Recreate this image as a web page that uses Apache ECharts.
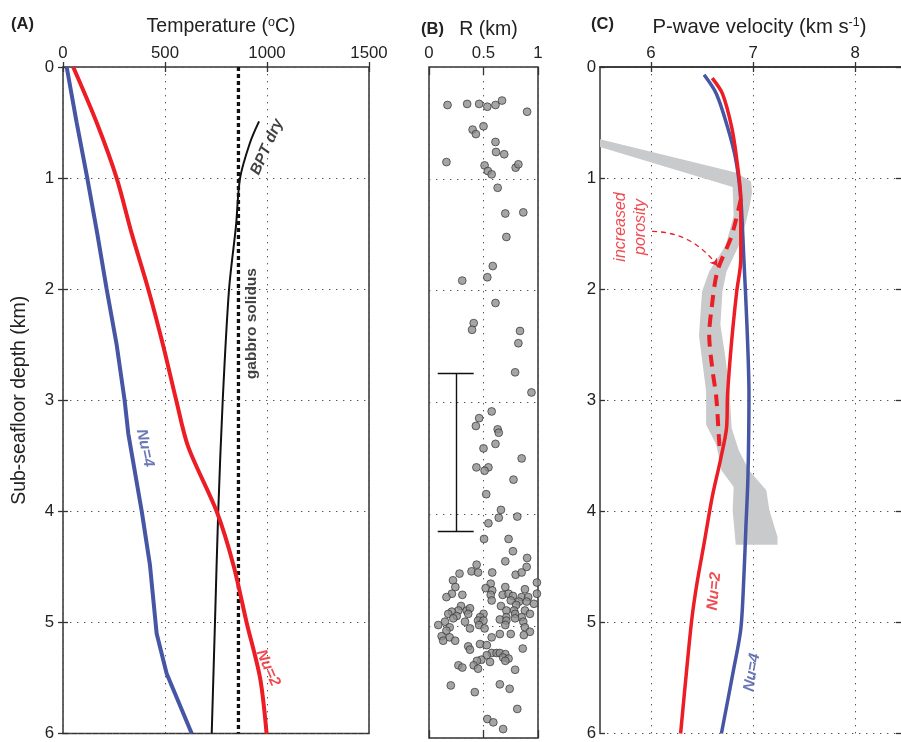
<!DOCTYPE html>
<html><head><meta charset="utf-8">
<script src="https://cdn.jsdelivr.net/npm/echarts@6/dist/echarts.min.js"></script>
<style>html,body{margin:0;padding:0;background:#fff}#c{width:901px;height:742px}</style>
</head><body><div id="c"></div>
<script>
// ---------- Panel A: temperature vs depth ----------
const tempTicks = [0, 500, 1000, 1500];
const nu4A_depth = [0, 0.5, 1, 1.5, 2, 2.5, 3, 3.3, 4, 4.48, 5.1, 5.46, 6];
const nu4A_temp  = [18, 67, 119, 168, 214, 263, 302, 320, 386, 426, 459, 508, 631];
const nu2A_depth = [0, 0.5, 1, 1.5, 2, 2.5, 3, 3.42, 4, 4.48, 5, 5.5, 6];
const nu2A_temp  = [50, 165, 263, 337, 418, 490, 555, 614, 753, 835, 900, 966, 998];
const bpt_depth  = [0.49, 0.68, 1, 1.43, 2, 3, 4, 5, 6];
const bpt_temp   = [961, 917, 868, 848, 814, 783, 761, 745, 729];
const gabbroSolidus = 860;

// ---------- Panel B: R vs depth ----------
const rTicks = [0, 0.5, 1];
const scatR = [0.17,0.35,0.46,0.535,0.61,0.67,0.90,0.40,0.43,0.50,0.61,0.615,0.69,0.16,0.51,0.54,0.575,0.795,0.82,
  0.63,0.70,0.865,0.71,0.585,0.535,0.305,0.61,0.41,0.395,0.835,0.82,0.79,0.94,
  0.575,0.46,0.43,0.63,0.64,0.61,0.50,0.85,0.435,0.545,0.51,0.775,0.525,0.66,0.64,0.81,0.545,0.505,0.73,0.77,0.70,0.90,
  0.437,0.896,0.39,0.45,0.28,0.58,0.795,0.85,0.22,0.566,0.242,0.52,0.58,0.70,0.88,0.99,0.21,0.566,0.16,0.306,0.676,0.73,0.77,0.85,0.91,0.75,0.575,0.826,0.896,0.66,0.80,0.963,0.294,0.27,0.21,0.346,0.376,0.71,0.78,0.88,0.177,0.254,0.36,0.50,0.468,0.79,0.926,0.71,0.85,0.99,
  0.147,0.223,0.33,0.45,0.50,0.65,0.71,0.79,0.865,0.085,0.19,0.16,0.376,0.46,0.51,0.70,0.88,0.926,0.116,0.13,0.19,0.24,0.575,0.65,0.75,0.87,0.36,0.376,0.468,0.53,0.86,0.575,0.62,0.53,0.65,0.70,0.48,0.68,0.73,0.44,0.56,0.70,0.27,0.306,0.41,0.45,0.79,
  0.20,0.42,0.65,0.74,0.81,0.535,0.59,0.68];
const scatD = [0.34,0.33,0.33,0.355,0.34,0.30,0.40,0.56,0.60,0.53,0.67,0.76,0.78,0.85,0.88,0.93,0.96,0.90,0.87,
  1.08,1.31,1.30,1.52,1.78,1.88,1.91,2.11,2.29,2.35,2.36,2.47,2.73,2.91,
  3.08,3.14,3.21,3.24,3.27,3.37,3.41,3.50,3.58,3.58,3.61,3.69,3.82,3.96,4.03,4.02,4.08,4.22,4.22,4.33,4.42,4.39,
  4.45,4.47,4.51,4.52,4.53,4.52,4.54,4.52,4.59,4.62,4.65,4.66,4.68,4.65,4.67,4.71,4.71,4.72,4.74,4.72,4.72,4.71,4.73,4.74,4.74,4.77,4.77,4.78,4.78,4.82,4.81,4.80,4.82,4.86,4.87,4.86,4.84,4.86,4.86,4.86,4.89,4.91,4.89,4.89,4.92,4.89,4.89,4.92,4.92,4.61,
  4.96,4.93,4.96,4.95,4.95,4.94,4.95,4.93,4.96,4.99,5.01,5.04,5.02,4.99,5.02,4.99,5.01,5.05,5.09,5.13,5.10,5.13,5.10,5.07,5.07,5.08,5.18,5.21,5.16,5.17,5.20,5.24,5.24,5.26,5.24,5.25,5.30,5.28,5.29,5.31,5.32,5.31,5.35,5.37,5.35,5.38,5.39,
  5.53,5.59,5.52,5.56,5.74,5.83,5.86,5.92];
const errBar = { r: 0.25, capLeft: 0.08, capRight: 0.41, top: 2.74, bottom: 4.15 };

// ---------- Panel C: P-wave velocity vs depth ----------
const vpTicks = [6, 7, 8];
const nu2C_depth = [0.10,0.24,0.54,0.83,1.19,1.73,2.02,2.47,2.95,3.25,3.54,3.87,4.29,4.65,4.97,5.42,6.0];
const nu2C_vp    = [6.60,6.70,6.79,6.84,6.88,6.88,6.84,6.79,6.75,6.74,6.68,6.60,6.52,6.45,6.40,6.35,6.29];
const nu4C_depth = [0.07,0.24,0.54,0.83,1.19,1.73,2.32,2.95,3.69,4.14,4.59,5.06,5.42,6.0];
const nu4C_vp    = [6.52,6.64,6.75,6.83,6.88,6.91,6.94,6.96,6.95,6.93,6.91,6.88,6.81,6.69];
const porous_depth = [1.19,1.52,1.84,2.20,2.41,2.71,2.98,3.40,3.46];
const porous_vp    = [6.88,6.79,6.65,6.59,6.57,6.60,6.64,6.67,6.68];
const band_vp    = [5.5,6.83,6.98,6.99,6.96,6.93,6.86,6.74,6.70,6.68,6.73,6.77,6.79,6.86,6.96,7.13,7.16,7.24,7.24,
                    6.83,6.80,6.81,6.69,6.64,6.54,6.54,6.47,6.50,6.57,6.73,6.81,6.80,5.5];
const band_depth = [0.65,0.95,1.03,1.13,1.28,1.40,1.61,1.84,2.02,2.32,2.62,2.92,3.25,3.45,3.63,3.81,3.99,4.23,4.30,
                    4.30,3.99,3.78,3.63,3.40,3.22,2.92,2.42,2.02,1.84,1.61,1.34,1.08,0.72];
const arrow_vp = [6.01, 6.65];
const arrow_depth = [1.48, 1.79];

const FONT = '"Liberation Sans", Arial, Helvetica, sans-serif';
const BLUE = '#4656A5', RED = '#EC1D24', GRAY = '#C9CACB', INK = '#222';
const TITLE = 19.5, TICK = 16.8;

function zip(a, b) { return a.map((v, i) => [v, b[i]]); }
const plain = (v) => String(v);

const dotted = { show: true, lineStyle: { color: '#555', width: 1, type: [1.4, 5.6] } };
const tickIn = (len) => ({ show: true, inside: true, length: len, lineStyle: { color: '#333', width: 1.3 } });
const frame = { show: true, lineStyle: { color: '#333', width: 1.5 } };
function richTitle(size) {
  return { t: { fontFamily: FONT, fontSize: size, color: INK },
           s: { fontFamily: FONT, fontSize: 12.5, color: INK, verticalAlign: 'top', padding: [0, 0, 9, 0] } };
}

function topAxis(grid, min, max, interval, name, extra) {
  return Object.assign({
    gridIndex: grid, type: 'value', position: 'top', min: min, max: max, interval: interval,
    axisLine: { show: false }, axisTick: tickIn(5),
    axisLabel: { fontFamily: FONT, fontSize: TICK, color: INK, margin: 5, formatter: plain },
    splitLine: dotted,
    name: name, nameLocation: 'middle', nameGap: 29,
    nameTextStyle: { fontFamily: FONT, fontSize: TITLE, color: INK }
  }, extra || {});
}
function bottomAxis(grid, min, max, interval, extra) {
  return Object.assign({
    gridIndex: grid, type: 'value', position: 'bottom', min: min, max: max, interval: interval,
    axisLine: { show: false }, axisTick: tickIn(5), axisLabel: { show: false }, splitLine: { show: false }
  }, extra || {});
}
function depthAxis(grid, pos, labels, margin, splitLine) {
  return {
    gridIndex: grid, type: 'value', position: pos, inverse: true, min: 0, max: 6, interval: 1,
    axisLine: { show: false }, axisTick: tickIn(5),
    axisLabel: { show: labels, fontFamily: FONT, fontSize: TICK, color: INK, margin: margin },
    splitLine: splitLine ? dotted : { show: false }
  };
}

function label(xi, yi, x, y, text, rot, color, weight, style, size) {
  return {
    type: 'scatter', xAxisIndex: xi, yAxisIndex: yi, symbolSize: 0, silent: true, z: 10,
    data: [[x, y]],
    label: { show: true, position: 'inside', formatter: text, rotate: rot, color: color,
      fontFamily: FONT, fontSize: size || 15.5, fontWeight: weight, fontStyle: style, lineHeight: 20 }
  };
}

const chart = echarts.init(document.getElementById('c'), null, { renderer: 'canvas' });
const option = {
  animation: false,
  backgroundColor: '#fff',
  grid: [
    { left: 63, top: 67, width: 306, height: 671, show: true, borderColor: '#333', borderWidth: 1.5, backgroundColor: 'transparent' },
    { left: 429, top: 67, width: 109, height: 671, show: true, borderColor: '#333', borderWidth: 1.5, backgroundColor: 'transparent' },
    { left: 600, top: 67, width: 301, height: 671, show: false }
  ],
  xAxis: [
    topAxis(0, 0, 1500, 500, '{t|Temperature (}{s|o}{t|C)}', { nameTextStyle: { rich: richTitle(TITLE), padding: [0, 0, 0, 10] } }),
    bottomAxis(0, 0, 1500, 500),
    topAxis(1, 0, 1, 0.5, 'R (km)', { axisTick: tickIn(8), nameGap: 26,
      nameTextStyle: { fontFamily: FONT, fontSize: TITLE, color: INK, padding: [0, 0, 0, 10] } }),
    bottomAxis(1, 0, 1, 0.5, { axisTick: tickIn(8) }),
    topAxis(2, 5.5, 8.45, null, '{t|P-wave velocity (km s}{s|-1}{t|)}', {
      interval: undefined, axisLine: frame,
      axisTick: Object.assign(tickIn(5), { customValues: vpTicks }),
      axisLabel: { fontFamily: FONT, fontSize: TICK, color: INK, margin: 5, customValues: vpTicks, formatter: plain },
      nameTextStyle: { rich: richTitle(20.3), padding: [0, 0, 0, 18] }
    }),
    bottomAxis(2, 5.5, 8.45, null, { interval: undefined, axisLine: frame,
      axisTick: Object.assign(tickIn(5), { customValues: vpTicks }) })
  ],
  yAxis: [
    Object.assign(depthAxis(0, 'left', true, 9, true), {
      name: 'Sub-seafloor depth (km)', nameLocation: 'middle', nameGap: 33, nameRotate: 90,
      nameTextStyle: { fontFamily: FONT, fontSize: TITLE, color: INK }
    }),
    depthAxis(0, 'right', false, 0, false),
    Object.assign(depthAxis(1, 'left', false, 0, true), { axisTick: { show: false } }),
    Object.assign(depthAxis(2, 'left', true, 4, true), { axisLine: frame }),
    depthAxis(2, 'right', false, 0, false)
  ],
  graphic: [
    { type: 'text', left: 11, top: 16, style: { text: '(A)', font: 'bold 16.5px ' + FONT, fill: INK } },
    { type: 'text', left: 421, top: 21, style: { text: '(B)', font: 'bold 16.5px ' + FONT, fill: INK } },
    { type: 'text', left: 591, top: 16, style: { text: '(C)', font: 'bold 16.5px ' + FONT, fill: INK } }
  ],
  series: [
    // Panel A
    { type: 'line', xAxisIndex: 0, yAxisIndex: 0, data: [[gabbroSolidus, 0], [gabbroSolidus, 6]], showSymbol: false, silent: true,
      lineStyle: { color: '#111', width: 3.3, type: [4, 3] }, z: 3 },
    { type: 'line', xAxisIndex: 0, yAxisIndex: 0, data: zip(bpt_temp, bpt_depth), showSymbol: false, smooth: 0.3, silent: true,
      lineStyle: { color: '#111', width: 2 }, z: 3 },
    { type: 'line', xAxisIndex: 0, yAxisIndex: 0, data: zip(nu4A_temp, nu4A_depth), showSymbol: false, silent: true,
      lineStyle: { color: BLUE, width: 4 }, z: 4 },
    { type: 'line', xAxisIndex: 0, yAxisIndex: 0, data: zip(nu2A_temp, nu2A_depth), showSymbol: false, smooth: 0.3, silent: true,
      lineStyle: { color: RED, width: 4 }, z: 4 },
    label(0, 0, 402, 3.43, 'Nu=4', -78, BLUE, 'bold', 'italic'),
    label(0, 0, 1005, 5.41, 'Nu=2', -66, RED, 'bold', 'italic'),
    label(0, 0, 1000, 0.72, 'BPT dry', 66, '#111', 'bold', 'italic'),
    label(0, 0, 925, 2.31, 'gabbro solidus', 90, '#111', 'bold', 'normal'),
    // Panel B
    { type: 'scatter', xAxisIndex: 2, yAxisIndex: 2, data: zip(scatR, scatD), symbol: 'circle', symbolSize: 7.8, silent: true,
      itemStyle: { color: '#8E8E8E', borderColor: '#333', borderWidth: 0.9 }, z: 4 },
    { type: 'lines', coordinateSystem: 'cartesian2d', xAxisIndex: 2, yAxisIndex: 2, silent: true, z: 5,
      lineStyle: { color: '#111', width: 1.4, opacity: 1 },
      data: [
        { coords: [[errBar.r, errBar.top], [errBar.r, errBar.bottom]] },
        { coords: [[errBar.capLeft, errBar.top], [errBar.capRight, errBar.top]] },
        { coords: [[errBar.capLeft, errBar.bottom], [errBar.capRight, errBar.bottom]] }
      ] },
    // Panel C
    { type: 'custom', xAxisIndex: 4, yAxisIndex: 3, data: [[band_vp[0], band_depth[0]]], silent: true, z: 1, clip: true,
      renderItem: function (params, api) {
        const pts = band_vp.map((v, i) => api.coord([v, band_depth[i]]));
        return { type: 'polygon', shape: { points: pts }, style: { fill: GRAY } };
      } },
    { type: 'line', xAxisIndex: 4, yAxisIndex: 3, data: zip(porous_vp, porous_depth), showSymbol: false, smooth: 0.3, silent: true,
      lineStyle: { color: RED, width: 4, type: [12, 8] }, z: 3 },
    { type: 'line', xAxisIndex: 4, yAxisIndex: 3, data: zip(nu4C_vp, nu4C_depth), showSymbol: false, smooth: 0.3, silent: true,
      lineStyle: { color: BLUE, width: 3.5 }, z: 4 },
    { type: 'line', xAxisIndex: 4, yAxisIndex: 3, data: zip(nu2C_vp, nu2C_depth), showSymbol: false, smooth: 0.3, silent: true,
      lineStyle: { color: RED, width: 3.5 }, z: 5 },
    { type: 'lines', coordinateSystem: 'cartesian2d', xAxisIndex: 4, yAxisIndex: 3, silent: true, z: 6,
      symbol: ['none', 'arrow'], symbolSize: 7,
      lineStyle: { color: RED, width: 1.3, type: [5, 4], curveness: 0.25, opacity: 1 },
      data: [{ coords: zip(arrow_vp, arrow_depth) }] },
    label(4, 3, 5.80, 1.44, 'increased\nporosity', 90, RED, 'normal', 'italic', 16),
    label(4, 3, 6.62, 4.72, 'Nu=2', 85, RED, 'bold', 'italic'),
    label(4, 3, 6.99, 5.45, 'Nu=4', 80, BLUE, 'bold', 'italic')
  ]
};
chart.setOption(option);
</script>
</body></html>
